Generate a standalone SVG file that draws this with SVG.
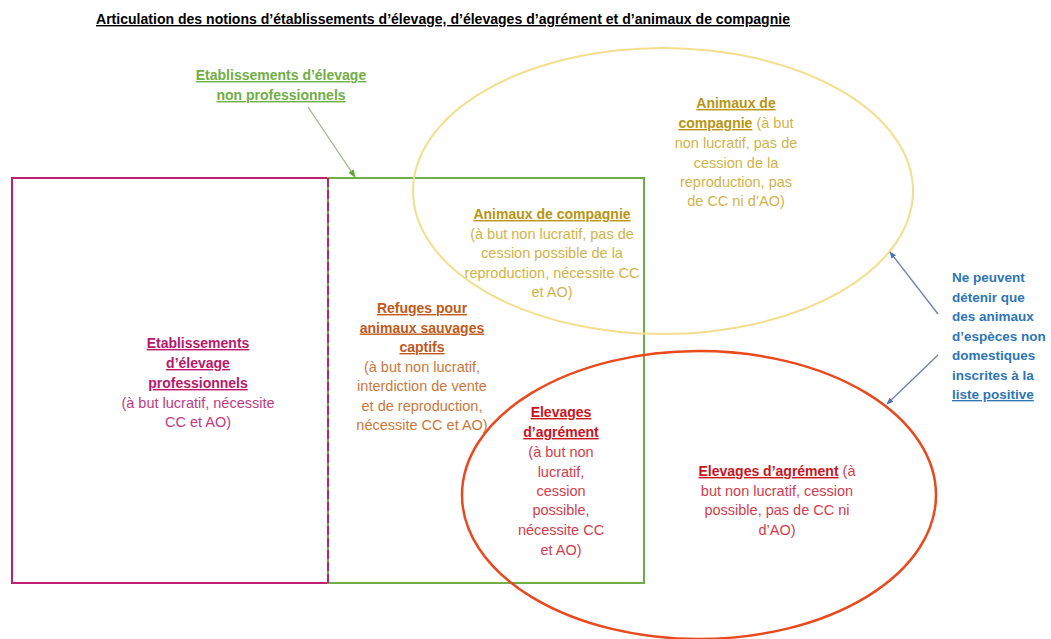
<svg xmlns="http://www.w3.org/2000/svg" width="1051" height="639" viewBox="0 0 1051 639">
<defs>
<style>
text{font-family:"Liberation Sans",Arial,sans-serif;font-size:14.5px;text-anchor:middle}
.b{font-weight:bold;font-size:14px}
.u{text-decoration:underline}
.mag{fill:#C03A84}.magb{fill:#B8186A}
.grn{fill:#6FAE45}
.org{fill:#C8783C}.orgb{fill:#C0591A}
.yel{fill:#CFB34A}.yelb{fill:#B89410}
.red{fill:#D23C4C}.redb{fill:#C8141E}
.blu{fill:#2E75B6;text-anchor:start;font-size:13.5px}
</style>
<marker id="ab" viewBox="0 0 10 10" refX="9" refY="5" markerWidth="7" markerHeight="7" orient="auto-start-reverse" markerUnits="userSpaceOnUse"><path d="M0,1 L10,5 L0,9 z" fill="#4A72B8"/></marker>
<marker id="ag" viewBox="0 0 10 10" refX="9" refY="5" markerWidth="8" markerHeight="8" orient="auto" markerUnits="userSpaceOnUse"><path d="M0,1 L10,5 L0,9 z" fill="#5FA83A"/></marker>
</defs>
<rect width="1051" height="639" fill="#fff"/>

<text x="443" y="24" class="b u" fill="#000" font-size="14" textLength="694" lengthAdjust="spacingAndGlyphs">Articulation des notions d’établissements d’élevage, d’élevages d’agrément et d’animaux de compagnie</text>

<g id="pro">
<rect x="12" y="178" width="316" height="405" fill="none" stroke="#BE2070" stroke-width="2"/>
<text x="198" y="348" class="b u magb">Etablissements</text>
<text x="198" y="368" class="b u magb">d’élevage</text>
<text x="198" y="388" class="b u magb">professionnels</text>
<text x="198" y="408" class="mag">(à but lucratif, nécessite</text>
<text x="198" y="427" class="mag">CC et AO)</text>
</g>

<g id="nonpro">
<rect x="328" y="178" width="316" height="405" fill="none" stroke="#70AD47" stroke-width="2"/>
<line x1="328" y1="178" x2="328" y2="583" stroke="#BE2070" stroke-width="2" stroke-dasharray="9,3"/>
<text x="281" y="80" class="b u grn">Etablissements d’élevage</text>
<text x="281" y="100" class="b u grn">non professionnels</text>
</g>

<g id="refuges">
<text x="422" y="313" class="b u orgb">Refuges pour</text>
<text x="422" y="332.5" class="b u orgb">animaux sauvages</text>
<text x="422" y="352" class="b u orgb">captifs</text>
<text x="422" y="371.5" class="org">(à but non lucratif,</text>
<text x="422" y="391" class="org">interdiction de vente</text>
<text x="422" y="410.5" class="org">et de reproduction,</text>
<text x="422" y="430" class="org">nécessite CC et AO)</text>
</g>

<g id="compagnie">
<ellipse cx="663" cy="191" rx="250" ry="143" fill="none" stroke="#F3DE8E" stroke-width="2"/>
<text x="552" y="219" class="b u yelb">Animaux de compagnie</text>
<text x="552" y="239" class="yel">(à but non lucratif, pas de</text>
<text x="552" y="258" class="yel">cession possible de la</text>
<text x="552" y="278" class="yel">reproduction, nécessite CC</text>
<text x="552" y="297" class="yel">et AO)</text>
<text x="736" y="108" class="b u yelb">Animaux de</text>
<text x="736" y="128" class="yel"><tspan class="b u yelb">compagnie</tspan> (à but</text>
<text x="736" y="148" class="yel">non lucratif, pas de</text>
<text x="736" y="168" class="yel">cession de la</text>
<text x="736" y="187" class="yel">reproduction, pas</text>
<text x="736" y="206" class="yel">de CC ni d’AO)</text>
</g>

<g id="agrement">
<ellipse cx="699" cy="495" rx="237" ry="144" fill="none" stroke="#E84A1E" stroke-width="2.5"/>
<text x="561" y="417" class="b u redb">Elevages</text>
<text x="561" y="437" class="b u redb">d’agrément</text>
<text x="561" y="457" class="red">(à but non</text>
<text x="561" y="477" class="red">lucratif,</text>
<text x="561" y="496" class="red">cession</text>
<text x="561" y="515" class="red">possible,</text>
<text x="561" y="535" class="red">nécessite CC</text>
<text x="561" y="555" class="red">et AO)</text>
<text x="777" y="476" class="red"><tspan class="b u redb">Elevages d’agrément</tspan> (à</text>
<text x="777" y="496" class="red">but non lucratif, cession</text>
<text x="777" y="515" class="red">possible, pas de CC ni</text>
<text x="777" y="535" class="red">d’AO)</text>
</g>

<g id="note">
<text x="952" y="282" class="b blu">Ne peuvent</text>
<text x="952" y="302" class="b blu">détenir que</text>
<text x="952" y="321" class="b blu">des animaux</text>
<text x="952" y="341" class="b blu">d’espèces non</text>
<text x="952" y="360" class="b blu">domestiques</text>
<text x="952" y="380" class="b blu">inscrites à la</text>
<text x="952" y="399" class="b blu u">liste positive</text>
</g>

<g id="connectors">
<line x1="308" y1="107" x2="355" y2="177" stroke="#9DB582" stroke-width="1.3" marker-end="url(#ag)"/>
<line x1="938" y1="314" x2="890" y2="252" stroke="#6680B8" stroke-width="1.3" marker-end="url(#ab)"/>
<line x1="938" y1="355" x2="887" y2="404" stroke="#6680B8" stroke-width="1.3" marker-end="url(#ab)"/>
</g>
</svg>
